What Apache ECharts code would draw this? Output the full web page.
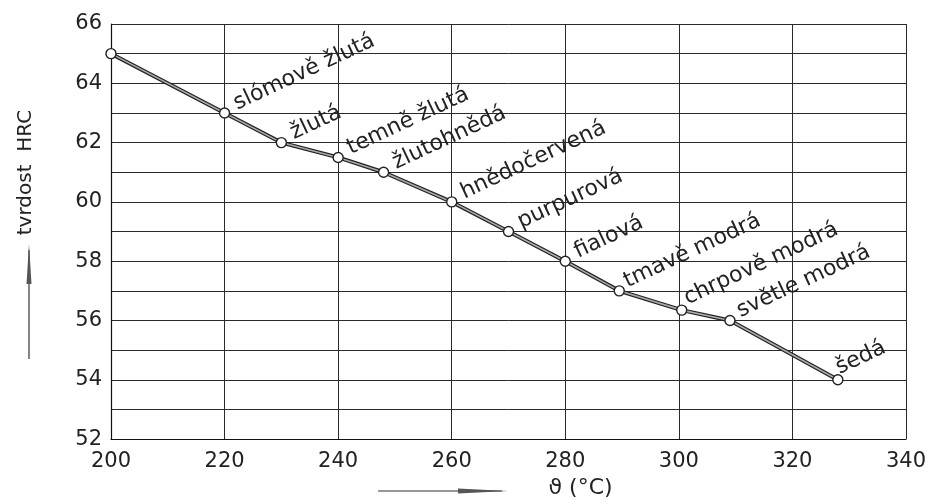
<!DOCTYPE html>
<html>
<head>
<meta charset="utf-8">
<script src="https://cdn.jsdelivr.net/npm/echarts@6/dist/echarts.min.js"></script>
<style>html,body{margin:0;padding:0;background:#fff}#c{width:939px;height:504px}</style>
</head>
<body>
<div id="c"></div>
<script>
// temperature (°C)
var temps = [200, 220, 230, 240, 248, 260, 270, 280, 289.5, 300.5, 309, 328];
// hardness HRC
var hardness = [65, 63, 62, 61.5, 61, 60, 59, 58, 57, 56.35, 56, 54];
// temper colour names
var colours = ['', 'slómově žlutá', 'žlutá', 'temně žlutá', 'žlutohnědá', 'hnědočervená',
  'purpurová', 'fialová', 'tmavě modrá', 'chrpově modrá', 'světle modrá', 'šedá'];
var xTicks = [200, 220, 240, 260, 280, 300, 320, 340];
var yTicks = [52, 54, 56, 58, 60, 62, 64, 66];

var FONT = 'DejaVu Sans';
var INK = '#222';
var chart = echarts.init(document.getElementById('c'), null, {renderer: 'canvas'});

// small per-label nudges (style only)
var nudge = {
  'tmavě modrá': [1, 2], 'chrpově modrá': [0, -1], 'světle modrá': [3, 3], 'šedá': [-4, -3]
};

var pts = temps.map(function (t, i) { return [t, hardness[i]]; });
var labelled = pts.map(function (p, i) {
  var lab = {show: !!colours[i], formatter: colours[i]};
  if (nudge[colours[i]]) { lab.offset = nudge[colours[i]]; }
  return {value: p, label: lab};
});

var option = {
  backgroundColor: '#fff',
  animation: false,
  grid: {left: 111, right: 33, top: 24, bottom: 61},
  xAxis: {
    type: 'value', min: xTicks[0], max: xTicks[xTicks.length - 1], interval: 20,
    axisLine: {show: true, lineStyle: {color: '#111', width: 1.2}},
    axisTick: {show: false},
    axisLabel: {color: INK, fontFamily: FONT, fontSize: 21, margin: 12},
    splitLine: {show: true, lineStyle: {color: '#2a2a2a', width: 1}},
    name: 'ϑ (°C)', nameLocation: 'middle', nameGap: 36,
    nameTextStyle: {color: INK, fontFamily: FONT, fontSize: 22, padding: [0, 0, 0, 144]}
  },
  yAxis: {
    type: 'value', min: yTicks[0], max: yTicks[yTicks.length - 1], interval: 2,
    axisLine: {show: true, lineStyle: {color: '#111', width: 1.2}},
    axisTick: {show: false},
    minorTick: {show: false, splitNumber: 2},
    minorSplitLine: {show: true, lineStyle: {color: '#2a2a2a', width: 1}},
    axisLabel: {color: INK, fontFamily: FONT, fontSize: 21, margin: 9},
    splitLine: {show: true, lineStyle: {color: '#2a2a2a', width: 1}},
    name: 'tvrdost  HRC', nameLocation: 'middle', nameGap: 75, nameRotate: 90,
    nameTextStyle: {color: INK, fontFamily: FONT, fontSize: 20, padding: [0, 0, 0, 118]}
  },
  graphic: [
    {type: 'line', shape: {x1: 29, y1: 359, x2: 29, y2: 250}, style: {stroke: '#333', lineWidth: 1.2}},
    {type: 'polygon', shape: {points: [[29, 244], [26.5, 284], [31.5, 284]]}, style: {fill: '#555'}},
    {type: 'line', shape: {x1: 378, y1: 491, x2: 502, y2: 491}, style: {stroke: '#333', lineWidth: 1.2}},
    {type: 'polygon', shape: {points: [[508, 491], [458, 488.5], [458, 493.5]]}, style: {fill: '#555'}}
  ],
  series: [
    {
      type: 'line', data: pts, symbol: 'none', silent: true,
      lineStyle: {color: '#222', width: 4}, z: 3
    },
    {
      type: 'line', data: labelled, symbol: 'circle', symbolSize: 10,
      itemStyle: {color: '#fff', borderColor: '#222', borderWidth: 1.4},
      lineStyle: {color: '#aaa', width: 1.6}, z: 4,
      label: {
        show: true, position: 'right', distance: 3, rotate: 25, offset: [5, 4],
        align: 'left', verticalAlign: 'bottom', lineHeight: 22,
        color: INK, fontFamily: FONT, fontSize: 22
      }
    }
  ]
};
chart.setOption(option);
</script>
</body>
</html>
